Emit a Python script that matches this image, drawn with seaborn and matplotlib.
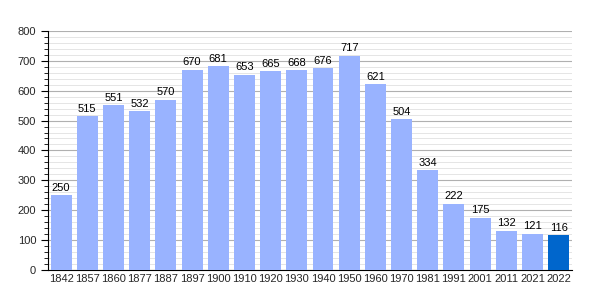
import matplotlib
matplotlib.use("Agg")
import matplotlib.pyplot as plt
import seaborn as sns
import pandas as pd
from matplotlib.ticker import MultipleLocator

years = ["1842", "1857", "1860", "1877", "1887", "1897", "1900", "1910", "1920", "1930",
         "1940", "1950", "1960", "1970", "1981", "1991", "2001", "2011", "2021", "2022"]
population = [250, 515, 551, 532, 570, 670, 681, 653, 665, 668,
              676, 717, 621, 504, 334, 222, 175, 132, 121, 116]

df = pd.DataFrame({"year": years, "pop": population})
colors = ["#99b3ff"] * (len(years) - 1) + ["#0066cc"]

sns.set_style("white")
plt.rcParams['font.family'] = ['Liberation Sans', 'DejaVu Sans']
fig = plt.figure(figsize=(6, 3), dpi=100)
ax = fig.add_axes([0.08, 0.1, 0.873, 0.797])

sns.barplot(data=df, x="year", y="pop", hue="year", palette=colors, legend=False,
            width=0.8, ax=ax, saturation=1, zorder=3, linewidth=0, edgecolor="none")

ax.set_ylim(0, 800)
ax.set_xlim(-0.5, len(years) - 0.5)
ax.yaxis.set_major_locator(MultipleLocator(100))
ax.yaxis.set_minor_locator(MultipleLocator(20))
ax.grid(axis="y", which="major", color="#b0b0b0", linewidth=0.8, zorder=0)
ax.grid(axis="y", which="minor", color="#e0e0e0", linewidth=0.6, zorder=0)
ax.set_axisbelow(True)
for s in ["top", "right"]:
    ax.spines[s].set_visible(False)
ax.spines["left"].set_color("black")
ax.spines["bottom"].set_color("black")
ax.tick_params(axis="y", which="major", length=5, width=0.8, labelsize=8, left=True, color="black")
ax.tick_params(axis="y", which="minor", length=3, width=0.6, left=True, color="black")
ax.tick_params(axis="x", length=0, labelsize=8, pad=3)
ax.set_xlabel("")
ax.set_ylabel("")

for i, v in enumerate(population):
    ax.text(i, v + 8, str(v), ha="center", va="bottom", fontsize=8, color="black")

fig.savefig("out.png", dpi=100)
